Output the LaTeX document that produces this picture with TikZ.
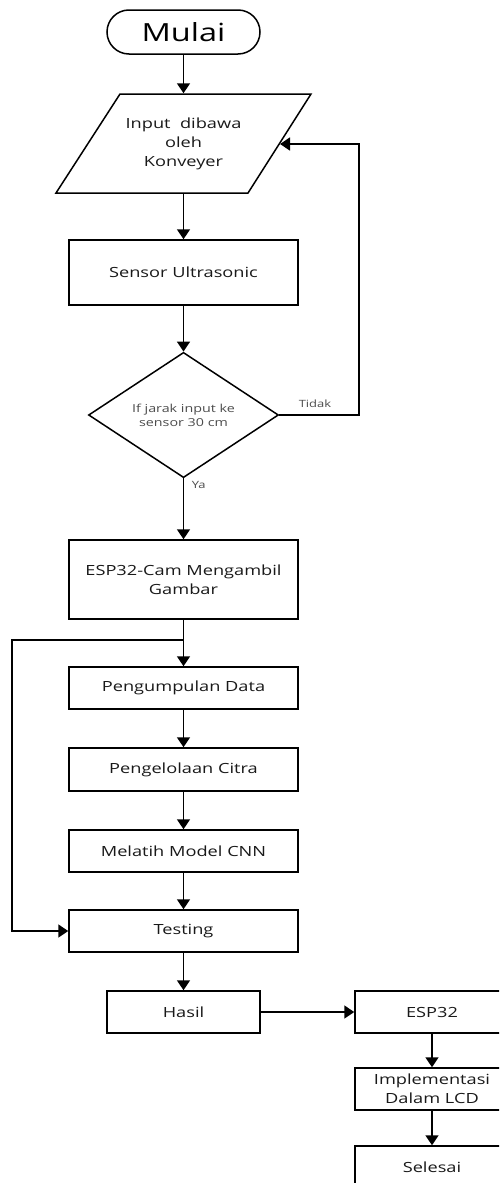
\documentclass[tikz,border=0pt]{standalone}
\usepackage{fontspec}
\setmainfont{Open Sans}[FakeStretch=1.3]
\usetikzlibrary{arrows.meta,shapes.geometric}
\begin{document}
\begin{tikzpicture}[x=1pt,y=-1pt,
  line width=1.5pt,
  arr/.style={-{Triangle[length=10pt,width=13pt]}},
  box/.style={draw, rectangle, inner sep=0pt, align=center, font=\fontsize{14}{19}\selectfont, text=black!90},
  lbl/.style={font=\fontsize{10}{12}\selectfont, text=black!70, inner sep=0pt}]
\useasboundingbox (0,0) rectangle (499,1183);
\clip (0,0) rectangle (499,1183);
% start
\node[draw, rectangle, rounded corners=22pt, minimum width=153pt, minimum height=44pt, inner sep=0pt,
  font=\fontsize{25}{28}\selectfont] (mulai) at (183.5,32) {Mulai};
% input parallelogram
\draw (120,94) -- (311,94) -- (248,193) -- (56,193) -- cycle;
\node[rectangle, minimum width=128pt, minimum height=99pt, inner sep=0pt, align=center,
  font=\fontsize{14}{19}\selectfont, text=black!90] (input) at (183.5,143.5) {Input\ \ dibawa\\oleh\\Konveyer};
\coordinate (inR) at (280,144);
% sensor
\node[box, minimum width=229pt, minimum height=65pt] (sensor) at (183.5,272.5) {Sensor Ultrasonic};
% decision
\node[draw, diamond, minimum width=190pt, minimum height=124pt, inner sep=0pt, align=center,
  font=\fontsize{11}{14}\selectfont, text=black!70] (dec) at (183.5,415) {If jarak input ke\\sensor 30 cm};
\coordinate (tR) at (359,415);
\coordinate (tU) at (359,144);
% camera
\node[box, minimum width=229pt, minimum height=79pt] (cam) at (183.5,579.5) {ESP32-Cam Mengambil\\Gambar};
\coordinate (j) at (183.5,640);
\coordinate (jL) at (12,640);
\node[box, minimum width=229pt, minimum height=42pt] (kumpul) at (183.5,688) {Pengumpulan Data};
\node[box, minimum width=229pt, minimum height=43pt] (olah) at (183.5,769.5) {Pengelolaan Citra};
\node[box, minimum width=229pt, minimum height=42pt] (latih) at (183.5,851) {Melatih Model CNN};
\node[box, minimum width=229pt, minimum height=42pt] (test) at (183.5,931) {Testing};
\node[box, minimum width=153pt, minimum height=42pt] (hasil) at (183.5,1012) {Hasil};
\node[box, minimum width=154pt, minimum height=42pt] (esp) at (432,1012) {ESP32};
\node[box, minimum width=154pt, minimum height=42pt] (lcd) at (432,1089) {Implementasi\\Dalam LCD};
\node[box, minimum width=154pt, minimum height=42pt] (selesai) at (432,1167) {Selesai};
% connectors
\draw[arr] (mulai) -- (input.north);
\draw[arr] (input.south) -- (sensor);
\draw[arr] (sensor) -- (dec);
\draw[arr] (dec.east) -- (tR) -- (tU) -- (inR);
\node[lbl, anchor=south west] at (298,408) {Tidak};
\draw[arr] (dec.south) -- (cam);
\node[lbl, anchor=north west] at (191,481) {Ya};
\draw (cam) -- (j);
\draw[arr] (j) -- (kumpul);
\draw[arr] (j) -- (jL) |- (test.west);
\draw[arr] (kumpul) -- (olah);
\draw[arr] (olah) -- (latih);
\draw[arr] (latih) -- (test);
\draw[arr] (test) -- (hasil);
\draw[arr] (hasil) -- (esp);
\draw[arr] (esp) -- (lcd);
\draw[arr] (lcd) -- (selesai);
\end{tikzpicture}
\end{document}
